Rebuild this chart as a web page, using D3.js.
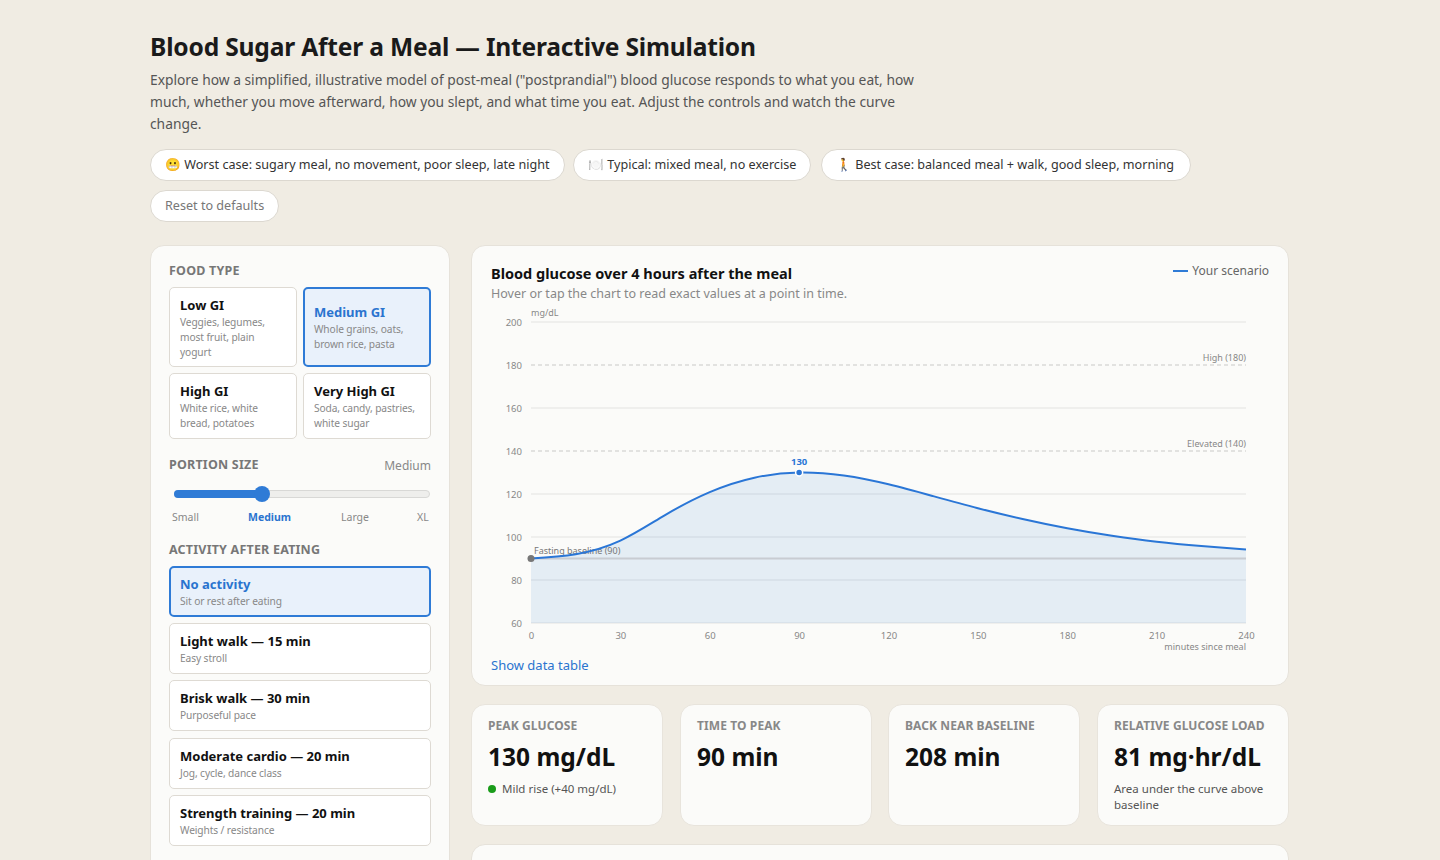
<!DOCTYPE html>
<html><head><meta charset="utf-8">
<script src="https://cdn.jsdelivr.net/npm/d3@7/dist/d3.min.js"></script>
<style>
*{box-sizing:border-box}
body{margin:0;background:#f0ece3;font-family:"Noto Sans","Open Sans",sans-serif;color:#1a1a1a;width:1440px;height:860px;overflow:hidden;position:relative}
.abs{position:absolute}
h1{position:absolute;left:150px;top:29px;margin:0;font-size:24.6px;font-weight:700;letter-spacing:-0.2px;line-height:36px}
.intro{position:absolute;left:150px;top:69px;width:775px;margin:0;font-size:13.8px;line-height:22px;color:#555}
.pill{position:absolute;height:32px;border:1px solid #dcd8d0;background:#fff;border-radius:16px;font-size:12.6px;line-height:30px;padding:0 14px;color:#333;white-space:nowrap}
.panel{position:absolute;background:#fbfbf9;border:1px solid #e6e2da;border-radius:14px}
.sec{position:absolute;font-size:12.5px;font-weight:700;color:#777;letter-spacing:0.2px}
.opt{position:absolute;background:#fff;border:1px solid #dedad3;border-radius:5px;padding:8px 10px}
.opt b{display:block;font-size:13px;font-weight:700;color:#111;line-height:18px}
.opt span{display:block;font-size:10.2px;color:#888;line-height:15px;margin-top:1px;letter-spacing:-0.1px}
.opt.sel{background:#e9f1fb;border:2px solid #2f7bd6;padding:7px 9px}
.opt.sel b{color:#2a74cf}
.stat{position:absolute;top:704px;height:122px;background:#fbfbf9;border:1px solid #e8e4dc;border-radius:14px;padding:0 16px}
.stat .lab{position:absolute;top:12px;left:16px;font-size:12px;font-weight:700;color:#888;letter-spacing:0.1px}
.stat .val{position:absolute;top:35px;left:16px;font-size:24.5px;font-weight:700;color:#111}
.stat .sub{position:absolute;top:76px;left:16px;right:14px;font-size:11.5px;color:#555;line-height:16px}
</style></head><body>
<h1>Blood Sugar After a Meal — Interactive Simulation</h1>
<p class="intro">Explore how a simplified, illustrative model of post-meal ("postprandial") blood glucose responds to what you eat, how much, whether you move afterward, how you slept, and what time you eat. Adjust the controls and watch the curve change.</p>

<div class="pill" style="left:150px;top:149px;width:415px">😬 Worst case: sugary meal, no movement, poor sleep, late night</div>
<div class="pill" style="left:573px;top:149px;width:238px">🍽️ Typical: mixed meal, no exercise</div>
<div class="pill" style="left:821px;top:149px;width:370px">🚶 Best case: balanced meal + walk, good sleep, morning</div>
<div class="pill" style="left:150px;top:190px;width:129px;color:#777">Reset to defaults</div>

<div class="panel" style="left:150px;top:245px;width:300px;height:640px"></div>
<div class="sec" style="left:169px;top:262px">FOOD TYPE</div>
<div class="opt" style="left:169px;top:287px;width:128px;height:80px"><b>Low GI</b><span>Veggies, legumes, most fruit, plain yogurt</span></div>
<div class="opt sel" style="left:303px;top:287px;width:128px;height:80px;padding-top:14px"><b>Medium GI</b><span>Whole grains, oats, brown rice, pasta</span></div>
<div class="opt" style="left:169px;top:373px;width:128px;height:66px"><b>High GI</b><span>White rice, white bread, potatoes</span></div>
<div class="opt" style="left:303px;top:373px;width:128px;height:66px"><b>Very High GI</b><span>Soda, candy, pastries, white sugar</span></div>
<div class="sec" style="left:169px;top:456px">PORTION SIZE</div>
<div class="abs" style="left:380px;top:457px;width:51px;text-align:right;font-size:12px;color:#888">Medium</div>
<div class="abs" style="left:174px;top:490px;width:256px;height:8px;border-radius:4px;background:#eeeeec;border:1px solid #d8d8d6"></div>
<div class="abs" style="left:174px;top:490px;width:88px;height:8px;border-radius:4px;background:#2f7bd6"></div>
<div class="abs" style="left:254px;top:486px;width:16px;height:16px;border-radius:8px;background:#2f7bd6"></div>
<div class="abs" style="left:172px;top:510px;font-size:10.5px;color:#888">Small</div>
<div class="abs" style="left:248px;top:510px;font-size:10.5px;color:#2a74cf;font-weight:700">Medium</div>
<div class="abs" style="left:341px;top:510px;font-size:10.5px;color:#888">Large</div>
<div class="abs" style="left:417px;top:510px;font-size:10.5px;color:#888">XL</div>
<div class="sec" style="left:169px;top:541px">ACTIVITY AFTER EATING</div>
<div id="acts"></div>

<div class="panel" style="left:471px;top:245px;width:818px;height:441px"></div>
<svg id="chart" class="abs" style="left:471px;top:245px" width="818" height="441"></svg>

<div id="stats"></div>
<div class="panel" style="left:471px;top:844px;width:818px;height:60px"></div>

<script>
// ---- data ----
const minutes = [0, 15, 30, 45, 60, 75, 90, 105, 120, 135, 150, 165, 180, 195, 210, 225, 240];
const glucose = [90, 92, 98.3, 110.2, 120.9, 127.6, 130, 128.6, 124.5, 119, 113.4, 108.4, 104.1, 100.6, 97.8, 95.8, 94.2];
const yTicks = [60, 80, 100, 120, 140, 160, 180, 200];
const xTicks = [0, 30, 60, 90, 120, 150, 180, 210, 240];
const thresholdValues = [180, 140];
const thresholdLabels = ["High (180)", "Elevated (140)"];
const baselineValue = 90;
const baselineLabel = "Fasting baseline (90)";
const peakMinute = 90, peakValue = 130;

const activityNames = ["No activity", "Light walk — 15 min", "Brisk walk — 30 min", "Moderate cardio — 20 min", "Strength training — 20 min"];
const activityDescs = ["Sit or rest after eating", "Easy stroll", "Purposeful pace", "Jog, cycle, dance class", "Weights / resistance"];

const statLabels = ["PEAK GLUCOSE", "TIME TO PEAK", "BACK NEAR BASELINE", "RELATIVE GLUCOSE LOAD"];
const statValues = ["130 mg/dL", "90 min", "208 min", "81 mg·hr/dL"];
const statSubs = ["Mild rise (+40 mg/dL)", "", "", "Area under the curve above baseline"];

// ---- activity list ----
const actTops = [566, 623, 680, 738, 795];
d3.select("#acts").selectAll("div").data(activityNames).join("div")
  .attr("class", (d, i) => "opt" + (i === 0 ? " sel" : ""))
  .style("left", "169px").style("top", (d, i) => actTops[i] + "px")
  .style("width", "262px").style("height", "51px")
  .html((d, i) => `<b>${d}</b><span>${activityDescs[i]}</span>`);

// ---- stats ----
const statLefts = [471, 680, 888, 1097];
d3.select("#stats").selectAll("div").data(statLabels).join("div")
  .attr("class", "stat")
  .style("left", (d, i) => statLefts[i] + "px").style("width", "192px")
  .html((d, i) => `<div class="lab">${d}</div><div class="val">${statValues[i]}</div>` +
     (statSubs[i] ? `<div class="sub">${i === 0 ? '<span style="display:inline-block;width:8px;height:8px;border-radius:4px;background:#1a9c1a;margin-right:6px;vertical-align:0px"></span>' : ''}${statSubs[i]}</div>` : ''));

// ---- chart ----
const svg = d3.select("#chart");
const m = {l: 60, t: 77, r: 43, b: 63};
const W = 818, H = 441;
const x = d3.scaleLinear().domain([0, 240]).range([m.l, W - m.r]);
const y = d3.scaleLinear().domain([60, 200]).range([H - m.b, m.t]);
const fontF = '"Noto Sans","Open Sans",sans-serif';

svg.append("text").attr("x", 20).attr("y", 34).attr("font-size", 14.5).attr("font-weight", 700).attr("fill", "#111").attr("font-family", fontF).text("Blood glucose over 4 hours after the meal");
svg.append("text").attr("x", 20).attr("y", 53).attr("font-size", 12.5).attr("fill", "#888").attr("font-family", fontF).text("Hover or tap the chart to read exact values at a point in time.");
// legend
svg.append("line").attr("x1", 702).attr("x2", 717).attr("y1", 26).attr("y2", 26).attr("stroke", "#2f7bd6").attr("stroke-width", 2);
svg.append("text").attr("x", 798).attr("y", 30).attr("text-anchor", "end").attr("font-size", 12).attr("fill", "#666").attr("font-family", fontF).text("Your scenario");

// gridlines
const grid = svg.append("g");
grid.selectAll("line").data(yTicks.filter(v => !thresholdValues.includes(v))).join("line")
  .attr("x1", x(0)).attr("x2", x(240)).attr("y1", d => y(d)).attr("y2", d => y(d))
  .attr("stroke", "#e3e3e1").attr("stroke-width", 1);

// area + line
const curve = d3.curveNatural;
const area = d3.area().x((d, i) => x(minutes[i])).y0(y(60)).y1(d => y(d)).curve(curve);
const line = d3.line().x((d, i) => x(minutes[i])).y(d => y(d)).curve(curve);
svg.append("path").datum(glucose).attr("d", area).attr("fill", "#2f7bd6").attr("fill-opacity", 0.11);

// threshold lines
thresholdValues.forEach((v, i) => {
  svg.append("line").attr("x1", x(0)).attr("x2", x(240)).attr("y1", y(v)).attr("y2", y(v))
    .attr("stroke", "#c9c9c7").attr("stroke-dasharray", "4,3");
  svg.append("text").attr("x", x(240)).attr("y", y(v) - 4).attr("text-anchor", "end")
    .attr("font-size", 9).attr("fill", "#888").attr("font-family", fontF).text(thresholdLabels[i]);
});
// baseline
svg.append("line").attr("x1", x(0)).attr("x2", x(240)).attr("y1", y(baselineValue)).attr("y2", y(baselineValue))
  .attr("stroke", "#c8ccd2").attr("stroke-width", 1.8);
svg.append("text").attr("x", x(0) + 3).attr("y", y(baselineValue) - 5).attr("font-size", 9).attr("fill", "#777").attr("font-family", fontF).text(baselineLabel);

svg.append("path").datum(glucose).attr("d", line).attr("fill", "none").attr("stroke", "#2a76d6").attr("stroke-width", 2);

// points
svg.append("circle").attr("cx", x(0)).attr("cy", y(glucose[0])).attr("r", 3.5).attr("fill", "#777");
svg.append("circle").attr("cx", x(peakMinute)).attr("cy", y(peakValue)).attr("r", 3.5).attr("fill", "#2a76d6").attr("stroke", "#fff").attr("stroke-width", 1.5);
svg.append("text").attr("x", x(peakMinute)).attr("y", y(peakValue) - 8).attr("text-anchor", "middle")
  .attr("font-size", 9.5).attr("font-weight", 700).attr("fill", "#2a76d6").attr("font-family", fontF).text(peakValue);

// axes
const yAxis = svg.append("g").attr("transform", `translate(${m.l},0)`)
  .call(d3.axisLeft(y).tickValues(yTicks).tickSize(0).tickPadding(9));
const xAxis = svg.append("g").attr("transform", `translate(0,${H - m.b})`)
  .call(d3.axisBottom(x).tickValues(xTicks).tickSize(0).tickPadding(9));
[yAxis, xAxis].forEach(a => {
  a.select(".domain").remove();
  a.selectAll("text").attr("font-size", 9.5).attr("fill", "#888").attr("font-family", fontF);
});
svg.append("text").attr("x", m.l).attr("y", y(200) - 6).attr("font-size", 9).attr("fill", "#888").attr("font-family", fontF).text("mg/dL");
svg.append("text").attr("x", x(240)).attr("y", H - m.b + 27).attr("text-anchor", "end").attr("font-size", 9).attr("fill", "#888").attr("font-family", fontF).text("minutes since meal");

svg.append("text").attr("x", 20).attr("y", 425).attr("font-size", 13).attr("fill", "#2a74cf").attr("font-family", fontF).text("Show data table");
</script>
</body></html>
